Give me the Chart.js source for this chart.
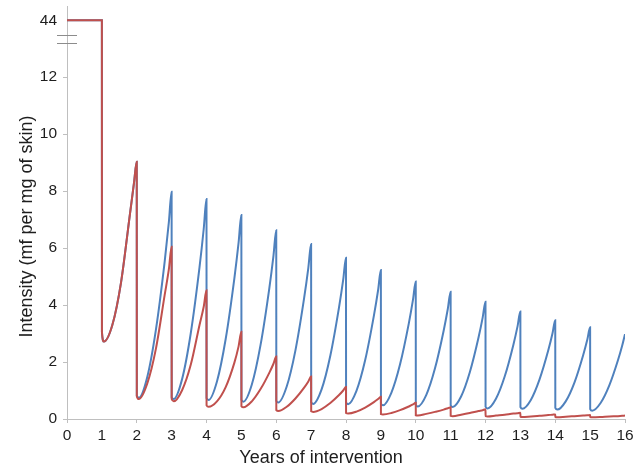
<!DOCTYPE html>
<html>
<head>
<meta charset="utf-8">
<script src="https://cdn.jsdelivr.net/npm/chart.js@4.4.0/dist/chart.umd.min.js"></script>
<style>
  html, body { margin: 0; padding: 0; background: #ffffff; }
  canvas { display: block; }
</style>
</head>
<body>
<canvas id="chart" width="644" height="467"></canvas>
<script>
// ---------- data ----------
const xTickYears = [0, 1, 2, 3, 4, 5, 6, 7, 8, 9, 10, 11, 12, 13, 14, 15, 16];
const yTickValues = [0, 2, 4, 6, 8, 10, 12, 14];
const yTickLabels = ['0', '2', '4', '6', '8', '10', '12', '44'];
const xTitle = 'Years of intervention';
const yTitle = 'Intensity (mf per mg of skin)';

const startLevel = 44;          // intensity before the intervention
const startLevelDrawnAt = 14;   // broken axis: 44 is plotted at the top tick
const breakMarkValues = [13.47, 13.2];

// sample positions (years after each yearly treatment round)
const roundOffsets = [0.002, 0.06, 0.3, 0.55, 0.8, 0.92, 1.0];

// red series: values at the offsets above, for each round start year
const redRoundStarts = [1, 2, 3, 4, 5, 6, 7, 8, 9, 10, 11, 12, 13, 14, 15];
const redRoundValues = [
  [3.05, 2.72, 3.30, 4.80, 7.15, 8.28, 9.03],
  [0.80, 0.70, 1.24, 2.47, 4.35, 5.25, 6.05],
  [0.70, 0.62, 1.01, 1.91, 3.30, 3.94, 4.52],
  [0.48, 0.43, 0.62, 1.12, 1.98, 2.55, 3.06],
  [0.45, 0.41, 0.62, 1.05, 1.62, 1.94, 2.19],
  [0.31, 0.28, 0.43, 0.72, 1.10, 1.32, 1.49],
  [0.27, 0.25, 0.35, 0.56, 0.84, 1.00, 1.12],
  [0.21, 0.19, 0.26, 0.40, 0.59, 0.70, 0.78],
  [0.17, 0.16, 0.21, 0.31, 0.44, 0.51, 0.57],
  [0.13, 0.12, 0.18, 0.25, 0.33, 0.38, 0.41],
  [0.11, 0.10, 0.15, 0.21, 0.28, 0.31, 0.34],
  [0.10, 0.09, 0.12, 0.15, 0.19, 0.20, 0.22],
  [0.08, 0.07, 0.09, 0.11, 0.14, 0.15, 0.16],
  [0.07, 0.06, 0.08, 0.10, 0.12, 0.13, 0.14],
  [0.07, 0.06, 0.07, 0.09, 0.10, 0.11, 0.12]
];

// blue series: identical to red until year 2, then its own rounds
const blueRoundStarts = [2, 3, 4, 5, 6, 7, 8, 9, 10, 11, 12, 13, 14, 15];
const blueRoundValues = [
  [0.82, 0.75, 1.47, 3.14, 5.52, 6.90, 7.98],
  [0.76, 0.70, 1.40, 3.02, 5.33, 6.67, 7.72],
  [0.73, 0.67, 1.32, 2.81, 4.95, 6.19, 7.16],
  [0.67, 0.61, 1.21, 2.60, 4.58, 5.73, 6.63],
  [0.64, 0.58, 1.14, 2.41, 4.25, 5.31, 6.14],
  [0.59, 0.53, 1.04, 2.22, 3.92, 4.89, 5.66],
  [0.58, 0.52, 0.99, 2.07, 3.63, 4.52, 5.23],
  [0.54, 0.48, 0.92, 1.92, 3.35, 4.18, 4.83],
  [0.50, 0.44, 0.84, 1.77, 3.10, 3.87, 4.47],
  [0.48, 0.42, 0.79, 1.64, 2.86, 3.57, 4.12],
  [0.43, 0.37, 0.71, 1.49, 2.61, 3.26, 3.77],
  [0.42, 0.36, 0.67, 1.39, 2.41, 3.00, 3.47],
  [0.39, 0.33, 0.62, 1.28, 2.24, 2.79, 3.22],
  [0.35, 0.29, 0.56, 1.18, 2.07, 2.58, 2.98]
];

// ---------- styles ----------
const redColor = '#C0504D';
const blueColor = '#4F81BD';
const axisColor = '#BFBFBF';
const breakColor = '#8C8C8C';
const textColor = '#1E1E1E';
const fontFamily = '"Liberation Sans", Arial, Helvetica, sans-serif';

// ---------- build points ----------
function plotValue(v) { return v > startLevelDrawnAt ? startLevelDrawnAt : v; }
function roundPoints(starts, values) {
  const pts = [];
  starts.forEach((s, i) => values[i].forEach((v, j) => pts.push({ x: s + roundOffsets[j], y: plotValue(v) })));
  return pts;
}
const redPoints = [{ x: 0, y: plotValue(startLevel) }, { x: 1, y: plotValue(startLevel) }]
  .concat(roundPoints(redRoundStarts, redRoundValues));
const bluePoints = redPoints.filter(p => p.x <= blueRoundStarts[0])
  .concat(roundPoints(blueRoundStarts, blueRoundValues));

// ---------- plugins ----------
const axisBreakPlugin = {
  id: 'axisBreak',
  afterDraw(chart) {
    const { ctx } = chart;
    const y = chart.scales.y;
    const x0 = chart.chartArea.left;
    ctx.save();
    ctx.strokeStyle = breakColor;
    ctx.lineWidth = 1;
    breakMarkValues.forEach(v => {
      const py = Math.round(y.getPixelForValue(v)) + 0.5;
      ctx.beginPath();
      ctx.moveTo(x0 - 10, py);
      ctx.lineTo(x0 + 10, py);
      ctx.stroke();
    });
    ctx.restore();
  }
};

const axisTitlePlugin = {
  id: 'axisTitles',
  afterDraw(chart) {
    const { ctx, chartArea } = chart;
    ctx.save();
    ctx.fillStyle = textColor;
    ctx.font = '18px ' + fontFamily;
    ctx.textAlign = 'center';
    ctx.textBaseline = 'alphabetic';
    ctx.fillText(xTitle, chartArea.left + 254, chartArea.bottom + 44);
    ctx.translate(chartArea.left - 35, (chartArea.top + chartArea.bottom) / 2 + 14);
    ctx.rotate(-Math.PI / 2);
    ctx.fillText(yTitle, 0, 0);
    ctx.restore();
  }
};

// ---------- chart ----------
Chart.defaults.font.family = fontFamily;
Chart.defaults.color = textColor;

new Chart(document.getElementById('chart'), {
  type: 'line',
  data: {
    datasets: [
      {
        label: 'Red',
        data: redPoints,
        borderColor: redColor,
        borderWidth: 2,
        pointRadius: 0,
        fill: false,
        tension: 0.4,
        cubicInterpolationMode: 'monotone'
      },
      {
        label: 'Blue',
        data: bluePoints,
        borderColor: blueColor,
        borderWidth: 2,
        pointRadius: 0,
        fill: false,
        tension: 0.4,
        cubicInterpolationMode: 'monotone'
      }
    ]
  },
  options: {
    responsive: false,
    animation: false,
    devicePixelRatio: 1,
    layout: { padding: { top: 6, right: 19, bottom: 0, left: 0 } },
    plugins: { legend: { display: false }, tooltip: { enabled: false } },
    scales: {
      x: {
        type: 'linear',
        min: 0,
        max: 16,
        afterBuildTicks: s => { s.ticks = xTickYears.map(v => ({ value: v })); },
        afterFit: s => { s.height = 48; s.paddingLeft = 0; s.paddingRight = 0; },
        grid: {
          drawOnChartArea: false,
          drawTicks: true,
          tickLength: 4,
          color: c => (c.tick && c.tick.value % 2 === 0) ? axisColor : 'rgba(0,0,0,0)'
        },
        border: { display: true, color: axisColor, width: 1 },
        ticks: {
          color: textColor,
          font: { size: 15.5 },
          padding: 3,
          maxRotation: 0,
          autoSkip: false,
          callback: v => String(v)
        }
      },
      y: {
        type: 'linear',
        min: 0,
        max: 14.5,
        afterBuildTicks: s => { s.ticks = yTickValues.map(v => ({ value: v })); },
        afterFit: s => { s.width = 67; s.paddingTop = 0; s.paddingBottom = 0; },
        grid: {
          drawOnChartArea: false,
          drawTicks: true,
          tickLength: 4,
          color: c => (c.tick && c.tick.value < startLevelDrawnAt) ? axisColor : 'rgba(0,0,0,0)'
        },
        border: { display: true, color: axisColor, width: 1 },
        ticks: {
          color: textColor,
          font: { size: 15.5 },
          padding: 6,
          autoSkip: false,
          callback: v => yTickLabels[yTickValues.indexOf(v)]
        }
      }
    }
  },
  plugins: [axisBreakPlugin, axisTitlePlugin]
});
</script>
</body>
</html>
